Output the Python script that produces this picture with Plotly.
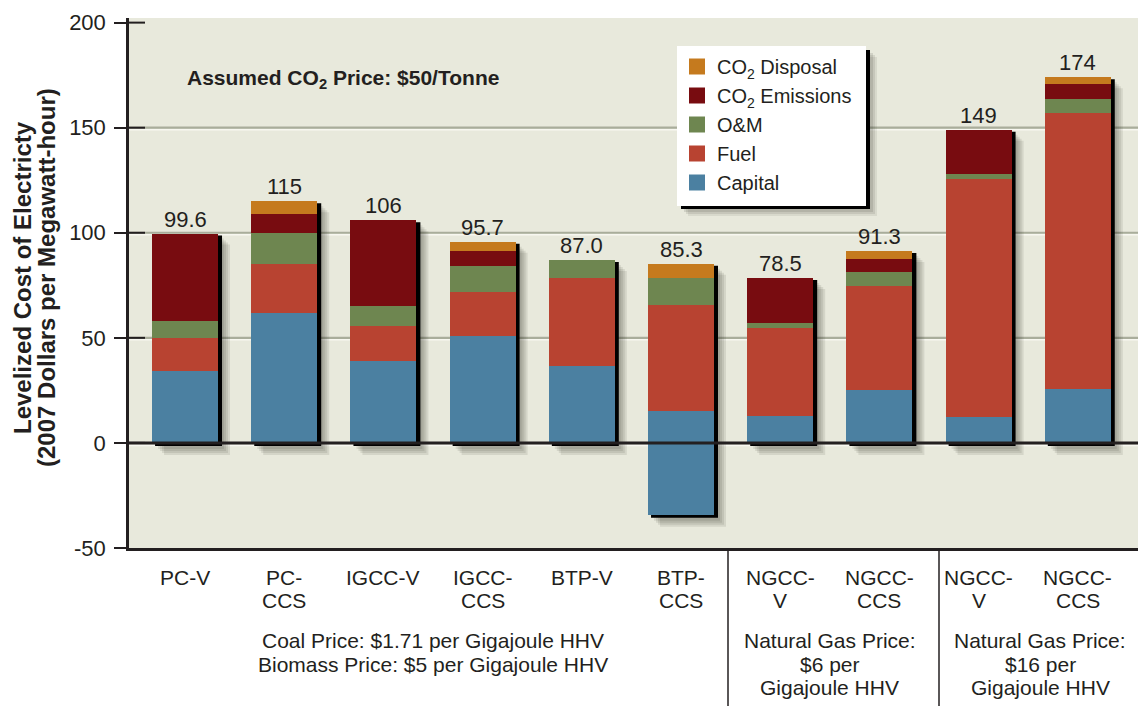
import plotly.graph_objects as go

# ---- data -------------------------------------------------------------
tick_labels = ["PC-V", "PC-<br>CCS", "IGCC-V", "IGCC-<br>CCS", "BTP-V", "BTP-<br>CCS",
               "NGCC-<br>V", "NGCC-<br>CCS", "NGCC-<br>V", "NGCC-<br>CCS"]

capital = [34.2, 61.7, 38.9, 51.1, 36.7, 15.2, 13.0, 25.1, 12.3, 25.6]
capital_below_zero = [None, None, None, None, None, -34.2, None, None, None, None]
fuel = [15.8, 23.4, 16.6, 20.5, 42.0, 50.3, 41.7, 49.4, 113.4, 131.4]
om = [7.9, 15.0, 9.5, 12.4, 8.3, 13.2, 2.2, 6.6, 2.4, 6.7]
co2_emissions = [41.7, 9.0, 41.0, 7.1, None, None, 21.6, 6.2, 20.9, 7.1]
co2_disposal = [None, 5.9, None, 4.6, None, 6.6, None, 4.0, None, 3.2]

group_notes = [
    (2.5, ["Coal Price: $1.71 per Gigajoule HHV", "Biomass Price: $5 per Gigajoule HHV"]),
    (6.5, ["Natural Gas Price:", "$6 per", "Gigajoule HHV"]),
    (8.62, ["Natural Gas Price:", "$16 per", "Gigajoule HHV"]),
]

y_ticks = [-50, 0, 50, 100, 150, 200]
y_tick_text = ["-50", "0", "50", "100", "150", "200"]
grid_values = [50, 100, 150]

# ---- styling ----------------------------------------------------------
FONT = "Liberation Sans, Arial, sans-serif"
INK = "#231F20"
C_CAPITAL = "#4B80A1"
C_FUEL = "#B84331"
C_OM = "#6E8650"
C_EMIS = "#780C10"
C_DISP = "#C57A1E"
BG = "#E8E9DC"

W, H = 1138, 706
ML, MR, MT, MB = 129, 0, 18, 158
PW, PH = W - ML - MR, H - MT - MB
X_RANGE = [-0.565, 9.607]
Y_RANGE = [-50, 202.2]
PX_X = (X_RANGE[1] - X_RANGE[0]) / PW   # data units per pixel
PX_Y = (Y_RANGE[1] - Y_RANGE[0]) / PH
BAR_W = 0.665


def paper_x(px):
    return (px - ML) / PW


def paper_y(py):
    return (H - MB - py) / PH


x_pos = list(range(len(tick_labels)))
series = [
    ("Capital", capital, C_CAPITAL),
    ("Fuel", fuel, C_FUEL),
    ("O&M", om, C_OM),
    ("CO<sub>2</sub> Emissions", co2_emissions, C_EMIS),
    ("CO<sub>2</sub> Disposal", co2_disposal, C_DISP),
]

fig = go.Figure()

# legend entries (top-down order as listed in the key)
for name, _, color in reversed(series):
    fig.add_trace(go.Scatter(
        x=[None], y=[None], mode="markers", name=name, legendgroup=name,
        marker=dict(symbol="square", size=18, color=color, line=dict(width=0)),
    ))

for name, vals, color in series:
    fig.add_trace(go.Bar(
        x=x_pos, y=vals, name=name, legendgroup=name, showlegend=False,
        marker=dict(color=color, line=dict(width=0)), width=BAR_W,
    ))
fig.add_trace(go.Bar(
    x=x_pos, y=capital_below_zero, name="Capital", legendgroup="Capital",
    showlegend=False, marker=dict(color=C_CAPITAL, line=dict(width=0)), width=BAR_W,
))

shapes = []
# gridlines with a light highlight underneath
for v in grid_values:
    shapes.append(dict(type="line", xref="paper", x0=0, x1=1, yref="y",
                       y0=v - 2 * PX_Y, y1=v - 2 * PX_Y, layer="below",
                       line=dict(color="#F7F7F0", width=1.5)))
    shapes.append(dict(type="line", xref="paper", x0=0, x1=1, yref="y",
                       y0=v, y1=v, layer="below",
                       line=dict(color="#A9AD9B", width=2.2)))
shapes.append(dict(type="line", xref="paper", x0=0, x1=1, yref="y",
                   y0=-2.5 * PX_Y, y1=-2.5 * PX_Y, layer="below",
                   line=dict(color="#F7F7F0", width=1.5)))

# drop shadows behind each stacked bar
totals = []
for i in x_pos:
    top = sum(s[1][i] for s in series if s[1][i] is not None)
    bottom = capital_below_zero[i] if capital_below_zero[i] is not None else 0
    totals.append(round(top, 1))
    left, right = i - BAR_W / 2, i + BAR_W / 2
    for off in [12, 10, 8, 6]:
        shapes.append(dict(type="rect", xref="x", yref="y", layer="below",
                           x0=left + off * PX_X, x1=right + off * PX_X,
                           y0=bottom - off * PX_Y, y1=top - (off - 1) * PX_Y,
                           fillcolor="rgba(40,40,30,0.10)", line=dict(width=0)))
    shapes.append(dict(type="rect", xref="x", yref="y", layer="below",
                       x0=left + 3 * PX_X, x1=right + 4 * PX_X,
                       y0=bottom - 3 * PX_Y, y1=top - 2 * PX_Y,
                       fillcolor="#000000", line=dict(width=0)))

# zero line over the bars
shapes.append(dict(type="line", xref="paper", x0=0, x1=1, yref="y", y0=0, y1=0,
                   layer="above", line=dict(color=INK, width=3)))
# inner tick extensions on the y axis
for v in y_ticks[1:]:
    shapes.append(dict(type="line", xref="paper", x0=0, x1=16 / PW, yref="y",
                       y0=v, y1=v, layer="above", line=dict(color=INK, width=2)))
# group separators below the axis
for px in (728, 939):
    shapes.append(dict(type="line", xref="paper", x0=paper_x(px), x1=paper_x(px),
                       yref="paper", y0=0, y1=paper_y(H), layer="above",
                       line=dict(color=INK, width=1.5)))

# legend panel: soft shadow, then a white card; the legend entries sit on top
LEG_L, LEG_R, LEG_T, LEG_B = 677, 866, 46, 206
for off, col in [(11, "rgba(40,40,30,0.08)"), (9, "rgba(40,40,30,0.10)"),
                 (7, "rgba(40,40,30,0.12)"), (4, "#000000")]:
    shapes.append(dict(type="rect", xref="paper", yref="paper", layer="above",
                       x0=paper_x(LEG_L + off), x1=paper_x(LEG_R + off),
                       y0=paper_y(LEG_B + off - 1), y1=paper_y(LEG_T + off),
                       fillcolor=col, line=dict(width=0)))
shapes.append(dict(type="rect", xref="paper", yref="paper", layer="above",
                   x0=paper_x(LEG_L), x1=paper_x(LEG_R),
                   y0=paper_y(LEG_B), y1=paper_y(LEG_T),
                   fillcolor="white", line=dict(width=0)))

annotations = []
# totals above bars
for i, t in zip(x_pos, totals):
    label = f"{t:.0f}" if t >= 100 else f"{t:.1f}"
    annotations.append(dict(x=i, y=t, xref="x", yref="y", text=label, showarrow=False,
                            yanchor="bottom", yshift=0,
                            font=dict(family=FONT, size=22, color=INK)))

# category labels, one annotation per line for tight leading
LINE = 23.5
for i, lab in zip(x_pos, tick_labels):
    for j, line in enumerate(lab.split("<br>")):
        annotations.append(dict(x=i, xref="x", y=paper_y(577 + j * LINE), yref="paper",
                                text=line, showarrow=False, yanchor="middle",
                                font=dict(family=FONT, size=21, color=INK)))
for xc, lines in group_notes:
    for j, line in enumerate(lines):
        annotations.append(dict(x=xc, xref="x", y=paper_y(640.5 + j * LINE), yref="paper",
                                text=line, showarrow=False, yanchor="middle",
                                font=dict(family=FONT, size=21, color=INK)))

annotations.append(dict(x=paper_x(185), y=paper_y(79), xref="paper", yref="paper",
                        xanchor="left", yanchor="middle", showarrow=False,
                        text="<b>Assumed CO<sub>2</sub> Price: $50/Tonne</b>",
                        font=dict(family=FONT, size=21, color=INK)))

for j, line in enumerate(["Levelized Cost of Electricty",
                          "(2007 Dollars per Megawatt-hour)"]):
    annotations.append(dict(x=paper_x(22 + 24 * j), y=paper_y(278), xref="paper",
                            yref="paper", textangle=-90, showarrow=False,
                            xanchor="center", yanchor="middle",
                            text=f"<b>{line}</b>",
                            font=dict(family=FONT, size=24, color=INK)))

fig.update_layout(
    width=W, height=H,
    margin=dict(l=ML, r=MR, t=MT, b=MB, pad=0),
    paper_bgcolor="white", plot_bgcolor=BG,
    barmode="relative", bargap=0,
    shapes=shapes, annotations=annotations,
    showlegend=True,
    legend=dict(x=paper_x(LEG_L), y=paper_y(LEG_T + 1), xanchor="left", yanchor="top",
                bgcolor="rgba(0,0,0,0)", borderwidth=0, traceorder="grouped",
                tracegroupgap=0, font=dict(family=FONT, size=20, color=INK),
                itemclick=False, itemdoubleclick=False),
    xaxis=dict(range=X_RANGE, showgrid=False, zeroline=False, showticklabels=False,
               showline=True, linecolor=INK, linewidth=3, ticks=""),
    yaxis=dict(range=Y_RANGE, tickvals=y_ticks, ticktext=y_tick_text,
               showgrid=False, zeroline=False,
               showline=True, linecolor=INK, linewidth=2.5,
               ticks="outside", ticklen=12, tickwidth=2, tickcolor=INK,
               ticklabelstandoff=4,
               tickfont=dict(family=FONT, size=22, color=INK)),
)

fig.write_html("out.html")
